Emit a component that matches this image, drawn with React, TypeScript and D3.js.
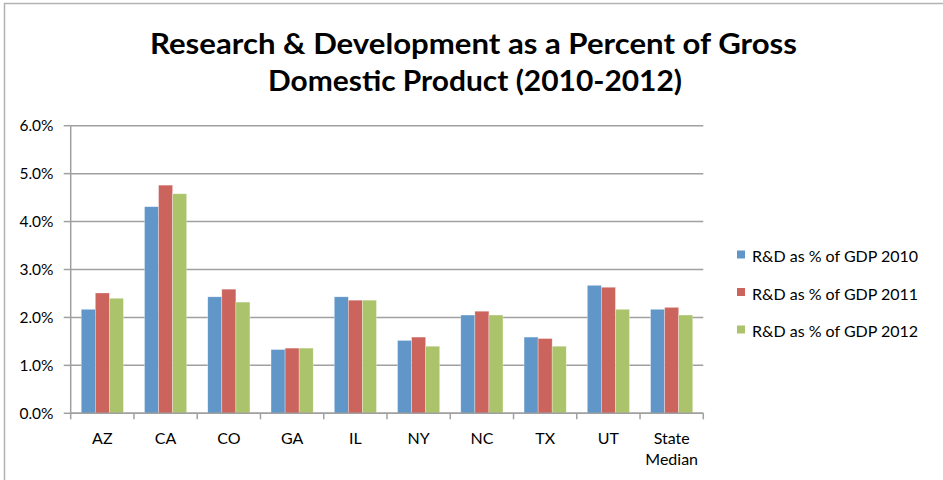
import React from 'react';
import * as d3 from 'd3';

const categories = ['AZ', 'CA', 'CO', 'GA', 'IL', 'NY', 'NC', 'TX', 'UT', 'State Median'];
const seriesNames = ['R&D as % of GDP 2010', 'R&D as % of GDP 2011', 'R&D as % of GDP 2012'];
const gdp2010 = [2.17, 4.31, 2.43, 1.33, 2.43, 1.52, 2.05, 1.59, 2.67, 2.17];
const gdp2011 = [2.51, 4.76, 2.59, 1.36, 2.36, 1.59, 2.13, 1.56, 2.63, 2.21];
const gdp2012 = [2.40, 4.58, 2.32, 1.36, 2.36, 1.40, 2.05, 1.40, 2.17, 2.05];
const yTicks = [0, 1, 2, 3, 4, 5, 6];
const colors = ['#6096c8', '#cc645e', '#abc46b'];

const font = 'Lato, "Open Sans", sans-serif';

const App: React.FC = () => {
    const width = 943;
    const height = 480;
    const plotLeft = 70.7;
    const plotRight = 703.3;
    const plotTop = 125.7;
    const plotBottom = 413.3;

    const series = [gdp2010, gdp2011, gdp2012];

    const x = d3.scaleBand<string>()
        .domain(categories)
        .range([plotLeft, plotRight])
        .padding(0);

    const xInner = d3.scaleBand<number>()
        .domain([0, 1, 2])
        .range([0, x.bandwidth()])
        .paddingInner(0)
        .paddingOuter(0.75);

    const y = d3.scaleLinear()
        .domain([0, 6])
        .range([plotBottom, plotTop]);

    const boundaries = categories.map(c => x(c) as number).concat([plotRight]);

    return (
        <div style={{ position: 'absolute', left: 0, top: 0 }}>
            <svg width={width} height={height} style={{ display: 'block', background: '#fff' }}>
                {/* outer frame */}
                <rect x={4.5} y={3.5} width={980} height={520} fill="#fff" stroke="#b3b3b3" strokeWidth={1.5} />

                {/* title */}
                <text x={473.5} y={53.5} textAnchor="middle" fontFamily={font} fontWeight="bold"
                    fontSize={28} fill="#000" textLength={647} lengthAdjust="spacingAndGlyphs">
                    Research &amp; Development as a Percent of Gross
                </text>
                <text x={475} y={91} textAnchor="middle" fontFamily={font} fontWeight="bold"
                    fontSize={28} fill="#000" textLength={414} lengthAdjust="spacingAndGlyphs">
                    Domestic Product (2010-2012)
                </text>

                {/* gridlines */}
                {yTicks.map(t => (
                    <line key={'g' + t} x1={plotLeft} x2={plotRight} y1={y(t)} y2={y(t)}
                        stroke="#a0a0a0" strokeWidth={1.5} />
                ))}

                {/* y axis */}
                <line x1={plotLeft} x2={plotLeft} y1={plotTop} y2={plotBottom} stroke="#a0a0a0" strokeWidth={1.5} />
                {yTicks.map(t => (
                    <g key={'yt' + t}>
                        <line x1={plotLeft - 7} x2={plotLeft} y1={y(t)} y2={y(t)} stroke="#a0a0a0" strokeWidth={1.5} />
                        <text x={53.5} y={y(t)} dy="0.36em" textAnchor="end" fontFamily={font}
                            fontSize={15.5} fill="#000">{t.toFixed(1) + '%'}</text>
                    </g>
                ))}

                {/* bars */}
                {categories.map((c, i) => (
                    <g key={c} transform={`translate(${x(c)},0)`}>
                        {series.map((s, j) => (
                            <rect key={j}
                                x={xInner(j)}
                                y={y(s[i])}
                                width={xInner.bandwidth()}
                                height={y(0) - y(s[i])}
                                fill={colors[j]}
                                stroke="#ffffff"
                                strokeOpacity={0.5}
                                strokeWidth={0.6} />
                        ))}
                    </g>
                ))}

                {/* x axis */}
                <line x1={plotLeft} x2={plotRight} y1={plotBottom} y2={plotBottom} stroke="#a0a0a0" strokeWidth={1.5} />
                {boundaries.map((b, i) => (
                    <line key={'xt' + i} x1={b} x2={b} y1={plotBottom} y2={plotBottom + 6}
                        stroke="#a0a0a0" strokeWidth={1.5} />
                ))}
                {categories.map(c => {
                    const cx = (x(c) as number) + x.bandwidth() / 2;
                    const words = c === 'State Median' ? ['State', 'Median'] : [c];
                    return (
                        <text key={'xl' + c} x={cx} y={444} textAnchor="middle" fontFamily={font}
                            fontSize={16} fill="#000">
                            {words.map((w, k) => (
                                <tspan key={k} x={cx} dy={k === 0 ? 0 : 21}>{w}</tspan>
                            ))}
                        </text>
                    );
                })}

                {/* legend */}
                {seriesNames.map((name, j) => (
                    <g key={name} transform={`translate(737,${250.5 + j * 37.5})`}>
                        <rect x={0} y={0} width={8} height={8} fill={colors[j]} />
                        <text x={15} y={11.5} fontFamily={font} fontSize={16} fill="#000">{name}</text>
                    </g>
                ))}
            </svg>
        </div>
    );
};

export default App;
